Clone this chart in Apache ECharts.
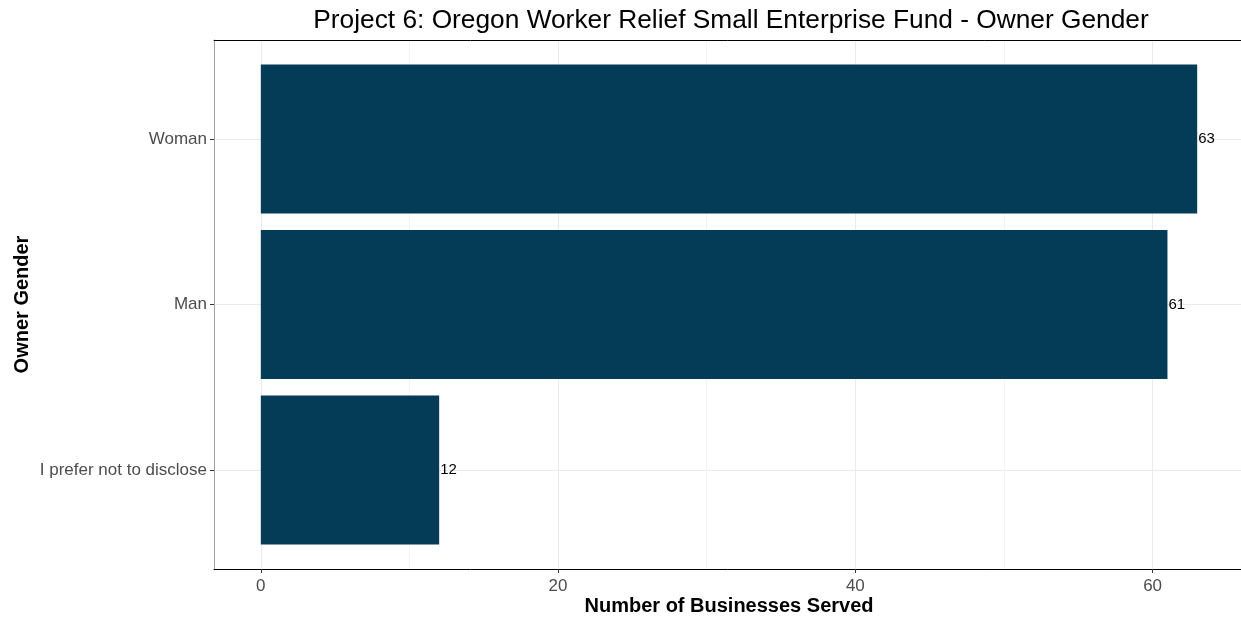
<!DOCTYPE html>
<html>
<head>
<meta charset="utf-8">
<script src="https://cdn.jsdelivr.net/npm/echarts@6/dist/echarts.min.js"></script>
<style>
html,body{margin:0;padding:0;background:#fff;}
#chart{width:1241px;height:619px;}
</style>
</head>
<body>
<div id="chart"></div>
<script>
const categories = ['I prefer not to disclose', 'Man', 'Woman'];
const businesses = [12, 61, 63];
const xTicks = [0, 20, 40, 60];
const titleText = 'Project 6: Oregon Worker Relief Small Enterprise Fund - Owner Gender';
const xName = 'Number of Businesses Served';
const yName = 'Owner Gender';

const dataMax = Math.max(...businesses);
const pad = dataMax * 0.05;
const xMin = -pad, xMax = dataMax + pad;

const FONT = '"Liberation Sans", Arial, sans-serif';
const chart = echarts.init(document.getElementById('chart'), null, {renderer: 'canvas'});

const option = {
  animation: false,
  backgroundColor: '#ffffff',
  textStyle: {fontFamily: FONT},
  title: {
    text: titleText,
    left: 726, textAlign: 'center', top: 3,
    textStyle: {fontFamily: FONT, fontSize: 26.3, fontWeight: 'normal', color: '#000'}
  },
  grid: [
    {left: 214, top: 40, width: 1030, height: 529, outerBoundsMode: 'none', containLabel: false},
    {left: 214, top: 139, width: 1030, height: 331, outerBoundsMode: 'none', containLabel: false}
  ],
  xAxis: [
    {
      gridIndex: 0, type: 'value', min: xMin, max: xMax,
      minInterval: 20, maxInterval: 20, splitNumber: 3,
      axisLine: {show: true, onZero: false, lineStyle: {color: '#000', width: 1}},
      axisTick: {show: true, length: 4, lineStyle: {color: '#333'}, customValues: xTicks},
      axisLabel: {show: true, customValues: xTicks, margin: 9, color: '#4d4d4d', fontSize: 17, fontFamily: FONT},
      splitLine: {show: true, lineStyle: {color: '#ebebeb', width: 1}},
      minorTick: {show: false, splitNumber: 2},
      minorSplitLine: {show: true, lineStyle: {color: '#f4f4f4', width: 1}},
      name: xName, nameLocation: 'middle', nameGap: 27, nameMoveOverlap: false,
      nameTextStyle: {fontFamily: FONT, fontSize: 20, fontWeight: 'bold', color: '#000'}
    },
    {
      gridIndex: 1, type: 'value', min: xMin, max: xMax, show: false
    },
    {
      gridIndex: 0, type: 'value', min: xMin, max: xMax, position: 'top',
      axisLine: {show: true, onZero: false, lineStyle: {color: '#000', width: 1}},
      axisTick: {show: false}, axisLabel: {show: false}, splitLine: {show: false}
    }
  ],
  yAxis: [
    {
      gridIndex: 0, type: 'value', min: 0, max: 1,
      axisLine: {show: true, onZero: false, lineStyle: {color: '#a0a0a0', width: 1}},
      axisTick: {show: false}, axisLabel: {show: false}, splitLine: {show: false},
      name: yName, nameLocation: 'middle', nameGap: 182, nameRotate: 90, nameMoveOverlap: false,
      nameTextStyle: {fontFamily: FONT, fontSize: 20, fontWeight: 'bold', color: '#000'}
    },
    {
      gridIndex: 1, type: 'category', data: categories, boundaryGap: false,
      axisLine: {show: false, onZero: false},
      axisTick: {show: true, length: 4, lineStyle: {color: '#333'}},
      axisLabel: {show: true, margin: 7, color: '#4d4d4d', fontSize: 17, fontFamily: FONT},
      splitLine: {show: true, lineStyle: {color: '#ebebeb', width: 1}}
    }
  ],
  series: [
    {
      type: 'bar', xAxisIndex: 1, yAxisIndex: 1,
      data: businesses,
      barWidth: '90%', clip: false,
      itemStyle: {color: '#043b56'},
      label: {show: true, position: 'right', distance: 1, color: '#000', fontSize: 15, fontFamily: FONT}
    }
  ]
};
chart.setOption(option);
</script>
</body>
</html>
